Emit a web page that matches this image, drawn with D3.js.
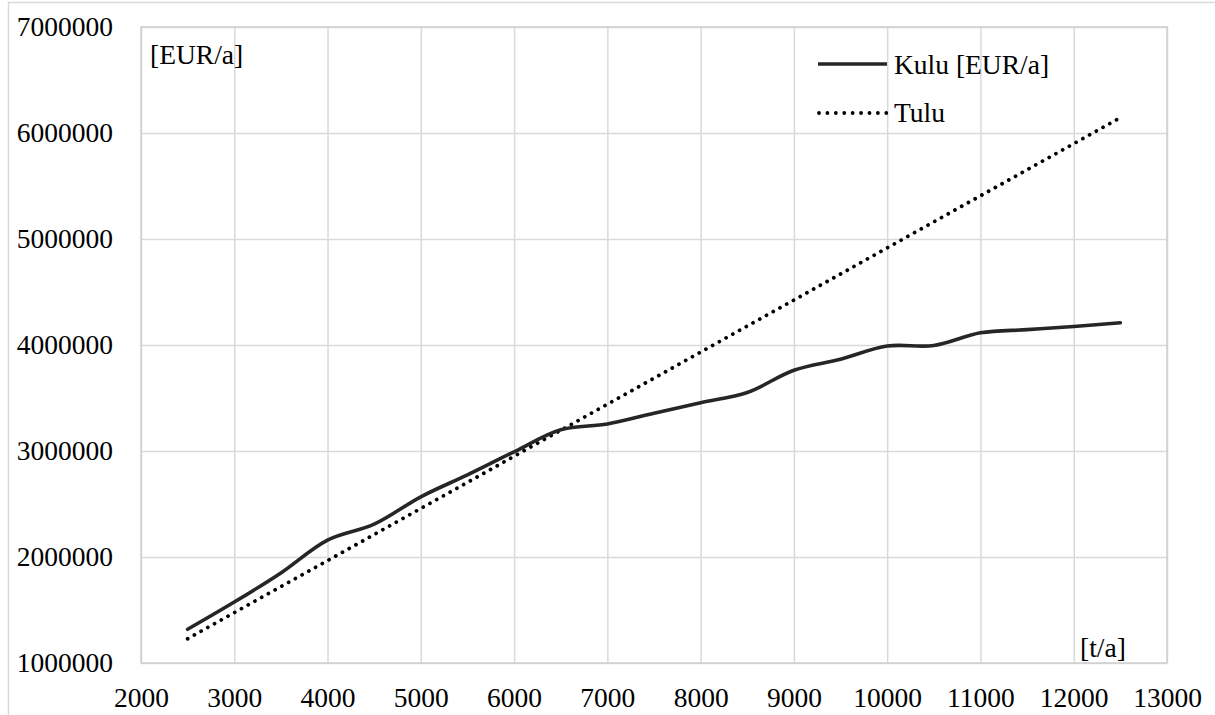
<!DOCTYPE html>
<html>
<head>
<meta charset="utf-8">
<script src="https://cdn.jsdelivr.net/npm/d3@7"></script>
<style>
  body { margin: 0; background: #fff; }
  text { font-family: "Liberation Serif", "Times New Roman", serif; fill: #000; }
</style>
</head>
<body>
<svg id="chart" width="1215" height="715"></svg>
<script>
// Annual quantity [t/a]
const tonnes = [2500, 3000, 3500, 4000, 4500, 5000, 5500, 6000, 6500, 7000, 7500,
                8000, 8500, 9000, 9500, 10000, 10500, 11000, 11500, 12000, 12500];
// Costs (Kulu) [EUR/a]
const kuluValues = [1318000, 1575000, 1850000, 2160000, 2310000, 2568000, 2775000, 2992000,
                    3200000, 3255000, 3356000, 3456000, 3552000, 3762000, 3866000, 3990000,
                    3995000, 4115000, 4145000, 4175000, 4210000];
// Revenue (Tulu) [EUR/a]
const tuluValues = [1229000, 1475000, 1721000, 1966000, 2212000, 2458000, 2704000, 2950000,
                    3195000, 3441000, 3687000, 3933000, 4179000, 4424000, 4670000, 4916000,
                    5162000, 5408000, 5653000, 5899000, 6145000];
const xTicks = [2000, 3000, 4000, 5000, 6000, 7000, 8000, 9000, 10000, 11000, 12000, 13000];
const yTicks = [1000000, 2000000, 3000000, 4000000, 5000000, 6000000, 7000000];
const seriesNames = ["Kulu [EUR/a]", "Tulu"];
const yUnit = "[EUR/a]";
const xUnit = "[t/a]";

const svg = d3.select("#chart");
const W = 1215, H = 715;
const plot = { left: 141, right: 1167, top: 27, bottom: 663 };
const fontSize = 27.5;
const gridColor = "#d9d9d9";

svg.append("rect").attr("width", W).attr("height", H).attr("fill", "#fff");
// outer chart frame
svg.append("rect")
  .attr("x", 8.5).attr("y", 2.5).attr("width", W).attr("height", H + 10)
  .attr("fill", "none").attr("stroke", gridColor).attr("stroke-width", 1.5);

const x = d3.scaleLinear().domain([2000, 13000]).range([plot.left, plot.right]);
const y = d3.scaleLinear().domain([1000000, 7000000]).range([plot.bottom, plot.top]);
const pw = plot.right - plot.left, ph = plot.bottom - plot.top;

// X axis with vertical gridlines
const gx = svg.append("g")
  .attr("transform", `translate(0,${plot.bottom})`)
  .call(d3.axisBottom(x).tickValues(xTicks).tickFormat(d3.format("d"))
    .tickSizeInner(-ph).tickSizeOuter(0).tickPadding(24));
gx.select(".domain").remove();
gx.selectAll(".tick line").attr("stroke", gridColor).attr("stroke-width", 1.5);
gx.selectAll(".tick text").attr("font-size", fontSize).attr("font-family", "Liberation Serif").attr("fill", "#000");

// Y axis with horizontal gridlines
const gy = svg.append("g")
  .attr("transform", `translate(${plot.left},0)`)
  .call(d3.axisLeft(y).tickValues(yTicks).tickFormat(d3.format("d"))
    .tickSizeInner(-pw).tickSizeOuter(0).tickPadding(28));
gy.select(".domain").remove();
gy.selectAll(".tick line").attr("stroke", gridColor).attr("stroke-width", 1.5);
gy.selectAll(".tick text").attr("font-size", fontSize).attr("font-family", "Liberation Serif").attr("fill", "#000");

// plot frame
svg.append("rect")
  .attr("x", plot.left).attr("y", plot.top).attr("width", pw).attr("height", ph)
  .attr("fill", "none").attr("stroke", "#d0d0d0").attr("stroke-width", 1.5);

// unit labels
svg.append("text").attr("x", 150).attr("y", 64).attr("font-size", fontSize).text(yUnit);
svg.append("text").attr("x", 1080).attr("y", 657).attr("font-size", fontSize).text(xUnit);

// series
const kuluLine = d3.line()
  .x((d, i) => x(tonnes[i])).y(d => y(d))
  .curve(d3.curveCatmullRom.alpha(0.5));
const tuluLine = d3.line()
  .x((d, i) => x(tonnes[i])).y(d => y(d));

svg.append("path").datum(tuluValues)
  .attr("d", tuluLine).attr("fill", "none")
  .attr("stroke", "#000").attr("stroke-width", 3.8)
  .attr("stroke-linecap", "round").attr("stroke-dasharray", "0.01 7.7");

svg.append("path").datum(kuluValues)
  .attr("d", kuluLine).attr("fill", "none")
  .attr("stroke", "#262626").attr("stroke-width", 3.6)
  .attr("stroke-linecap", "round").attr("stroke-linejoin", "round");

// legend
const legend = svg.append("g");
legend.append("line").attr("x1", 818).attr("x2", 887).attr("y1", 64).attr("y2", 64)
  .attr("stroke", "#262626").attr("stroke-width", 3.6);
legend.append("text").attr("x", 894).attr("y", 74).attr("font-size", fontSize).text(seriesNames[0]);
legend.append("line").attr("x1", 819).attr("x2", 887).attr("y1", 113).attr("y2", 113)
  .attr("stroke", "#000").attr("stroke-width", 3.8)
  .attr("stroke-linecap", "round").attr("stroke-dasharray", "0.01 8.4");
legend.append("text").attr("x", 894).attr("y", 122).attr("font-size", fontSize).text(seriesNames[1]);
</script>
</body>
</html>
